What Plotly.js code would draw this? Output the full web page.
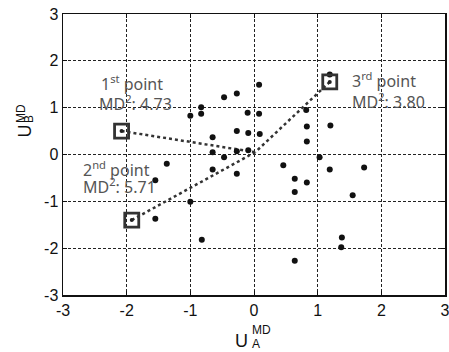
<!DOCTYPE html>
<html>
<head>
<meta charset="utf-8">
<script src="https://cdn.plot.ly/plotly-3.0.1.min.js"></script>
<style>html,body{margin:0;padding:0;background:#fff;}#chart{width:449px;height:352px;}</style>
</head>
<body>
<div id="chart"></div>
<script>
// Scatter points (U_A^MD, U_B^MD)
const pointsX = [0.08,-0.27,-0.47,-0.83,-1.00,-0.83,-0.10,0.08,-0.65,-0.27,-0.09,0.09,-0.65,-0.47,-0.27,-0.09,-0.65,-0.27,-1.00,-0.82,1.19,0.82,0.83,1.20,0.83,1.03,0.46,0.64,0.83,0.64,1.19,1.73,1.55,1.38,1.37,0.64,-1.37,-1.55,-1.55];
const pointsY = [1.49,1.30,1.22,1.01,0.83,0.87,0.89,0.87,0.37,0.50,0.46,0.44,0.05,-0.06,0.07,0.09,-0.32,-0.41,-1.01,-1.82,1.71,0.95,0.60,0.62,0.28,-0.06,-0.23,-0.52,-0.60,-0.80,-0.32,-0.28,-0.87,-1.77,-1.98,-2.27,-0.20,-0.55,-1.37];

// Highlighted outliers
const outlierNames = ["1st point","2nd point","3rd point"];
const outlierX = [-2.08,-1.92,1.19];
const outlierY = [0.50,-1.40,1.55];
const outlierMD2 = ["4.73","5.71","3.80"];
const outlierLabels = ["1<sup>st</sup> point","2<sup>nd</sup> point","3<sup>rd</sup> point"];

// Centre the dotted lines converge on
const centreX = [0.02];
const centreY = [0.05];

const tickVals = [-3,-2,-1,0,1,2,3];
const tickText = ["-3","-2","-1","0","1","2","3"];

// ---- layout constants (positions, not data) ----
const labelPos = [
  {x1: -2.43, y1: 1.52, x2: -2.46, y2: 1.10},
  {x1: -2.71, y1: -0.31, x2: -2.71, y2: -0.67},
  {x1: 1.51, y1: 1.59, x2: 1.51, y2: 1.14}
];
const PX = {l: 63, r: 445, t: 14, b: 295};
const px2paperX = p => (p - PX.l) / (PX.r - PX.l);
const px2paperY = p => (PX.b - p) / (PX.b - PX.t);

const traces = [];
for (let i = 0; i < outlierX.length; i++) {
  traces.push({
    type: 'scatter', mode: 'lines', x: [outlierX[i], centreX[0]], y: [outlierY[i], centreY[0]],
    line: {color: '#333', width: 2.5, dash: 'dot'}, hoverinfo: 'skip', showlegend: false
  });
}
traces.push({
  type: 'scatter', mode: 'markers', x: pointsX, y: pointsY,
  marker: {color: '#111', size: 6}, showlegend: false
});
traces.push({
  type: 'scatter', mode: 'markers', x: outlierX, y: outlierY, text: outlierNames,
  marker: {symbol: 'square-open', color: '#333', size: 14, line: {width: 2.8, color: '#333'}}, showlegend: false
});
traces.push({
  type: 'scatter', mode: 'markers', x: outlierX, y: outlierY,
  marker: {color: '#222', size: 4}, showlegend: false
});

const annFont = {family: 'Noto Sans, Open Sans, sans-serif', size: 16, color: '#555'};
const annotations = [];
for (let i = 0; i < outlierX.length; i++) {
  annotations.push({
    x: labelPos[i].x1, y: labelPos[i].y1, xref: 'x', yref: 'y', xanchor: 'left', yanchor: 'middle',
    showarrow: false, font: annFont, text: outlierLabels[i]
  });
  annotations.push({
    x: labelPos[i].x2, y: labelPos[i].y2, xref: 'x', yref: 'y', xanchor: 'left', yanchor: 'middle',
    showarrow: false, font: annFont, text: 'MD<sup>2</sup>: ' + outlierMD2[i]
  });
}
const tf = {family: 'Liberation Sans, Arial, sans-serif', color: '#111'};
function axAnn(cx, cy, text, size, angle) {
  return {xref: 'paper', yref: 'paper', x: px2paperX(cx), y: px2paperY(cy), xanchor: 'center', yanchor: 'middle',
    showarrow: false, text: text, textangle: angle || 0, font: Object.assign({size: size}, tf)};
}
// x-axis title U_A^MD
annotations.push(axAnn(241.5, 341, 'U', 18));
annotations.push(axAnn(261, 329.5, 'MD', 12));
annotations.push(axAnn(256, 344, 'A', 12));
// y-axis title U_B^MD
annotations.push(axAnn(24.5, 131, 'U', 18, -90));
annotations.push(axAnn(21, 114, 'MD', 12, -90));
annotations.push(axAnn(29, 119, 'B', 12, -90));

const axisCommon = {
  range: [-3, 3], tickvals: tickVals, ticktext: tickText, showgrid: true,
  gridcolor: '#222', griddash: '3px,2px', gridwidth: 1, zeroline: false,
  showline: true, mirror: 'ticks', linecolor: '#111', linewidth: 1.5,
  ticks: 'inside', ticklen: 4, tickcolor: '#111', tickwidth: 1,
  ticklabeloverflow: 'allow',
  tickfont: {family: 'Liberation Sans, Arial, sans-serif', size: 16, color: '#111'}
};

const layout = {
  width: 449, height: 352,
  margin: {l: 63, r: 4, t: 14, b: 57},
  paper_bgcolor: '#fff', plot_bgcolor: '#fff',
  xaxis: Object.assign({}, axisCommon),
  yaxis: Object.assign({}, axisCommon),
  annotations: annotations,
  showlegend: false
};

Plotly.newPlot('chart', traces, layout, {displayModeBar: false, staticPlot: true});
</script>
</body>
</html>
